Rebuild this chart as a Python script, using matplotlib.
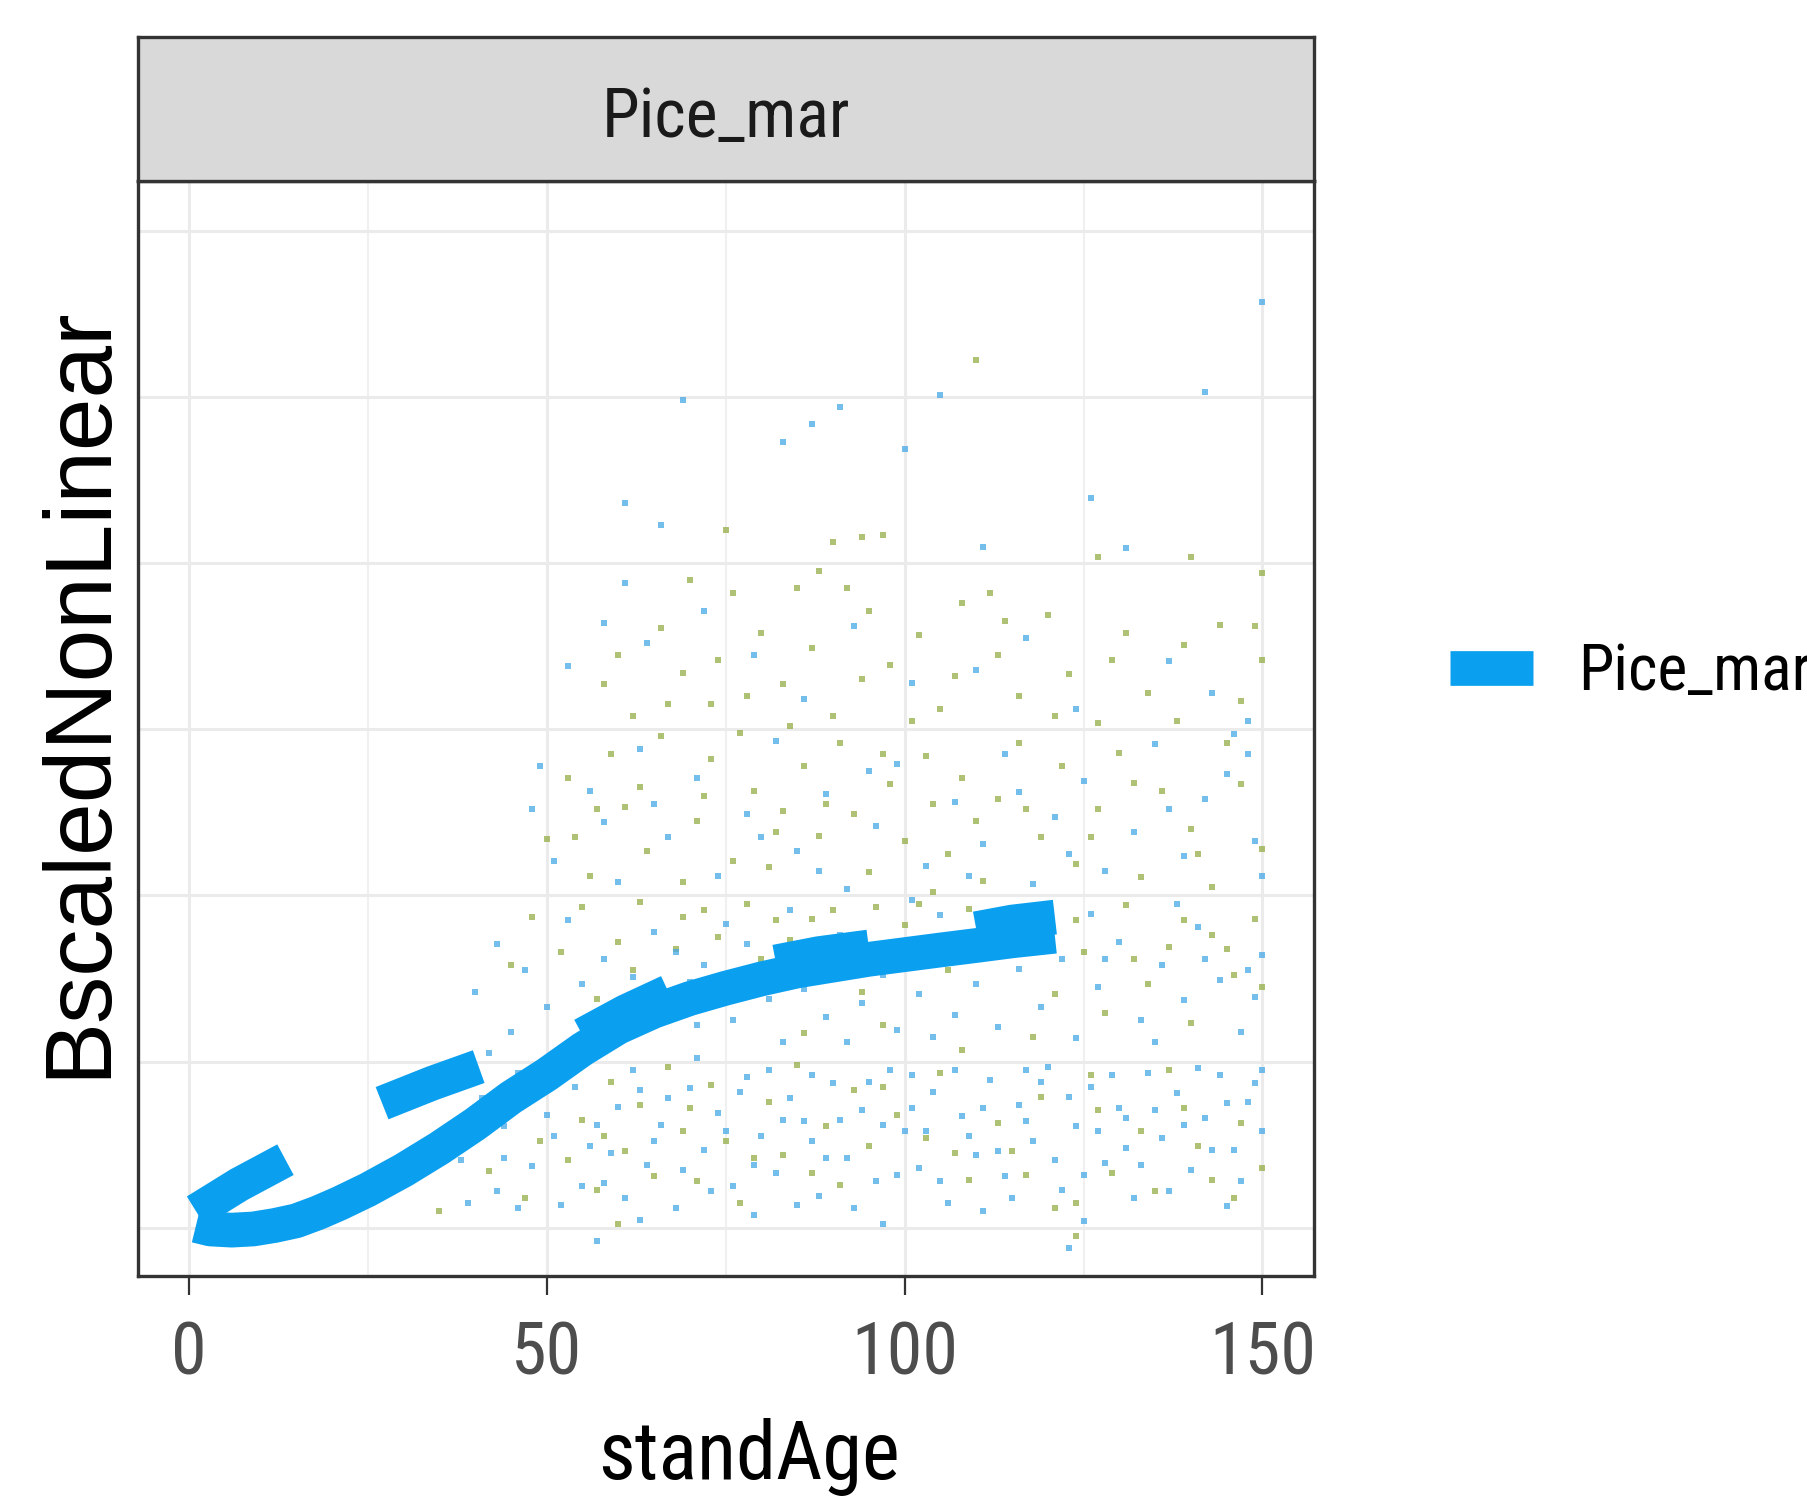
import numpy as np
import matplotlib
matplotlib.use("Agg")
import matplotlib.pyplot as plt

# narrow grotesque first, regular Liberation as fallback
plt.rcParams['font.family'] = ['Roboto Condensed', 'Archivo Narrow', 'Liberation Sans', 'DejaVu Sans']

# fitted curve (solid) for Pice_mar
main_age = [1, 3, 6, 9, 12, 15, 18, 21, 25, 30, 35, 40, 45, 50, 55, 60, 65, 70,
            75, 80, 85, 90, 95, 100, 105, 110, 115, 121]
main_fit = [0.014, -0.007, -0.014, -0.007, 0.014, 0.042, 0.090, 0.146, 0.229, 0.347,
            0.479, 0.624, 0.784, 0.922, 1.075, 1.207, 1.304, 1.380, 1.442, 1.498,
            1.546, 1.581, 1.616, 1.644, 1.672, 1.699, 1.727, 1.755]

# second (dashed) curve, visible dash pieces separated by nan
dash_age = [1, 7, 13.5, np.nan, 27, 34, 40.5, np.nan, 55, 61, 67, np.nan,
            82, 88, 95, np.nan, 110, 115, 121]
dash_fit = [0.10, 0.26, 0.41, np.nan, 0.75, 0.87, 0.97, np.nan, 1.16, 1.30, 1.42, np.nan,
            1.60, 1.65, 1.69, np.nan, 1.80, 1.84, 1.87]

# raw points (two colour groups)
blue_pts = [
    (150, 5.57), (105, 5.01), (142, 5.03), (69, 4.98), (91, 4.94), (87, 4.84), (83, 4.73),
    (100, 4.69), (61, 4.36), (126, 4.39), (66, 4.23), (111, 4.1), (131, 4.09), (61, 3.88),
    (58, 3.64), (53, 3.38), (49, 2.78),
    (64, 3.52), (72, 3.71), (79, 3.45), (93, 3.62), (101, 3.28), (117, 3.55), (124, 3.12),
    (137, 3.41), (143, 3.22), (148, 3.05), (86, 3.18), (110, 3.36),
    (48, 2.52), (51, 2.21), (56, 2.63), (60, 2.08), (63, 2.88), (67, 2.35), (71, 2.71),
    (74, 2.12), (78, 2.49), (82, 2.93), (85, 2.27), (89, 2.61), (92, 2.04), (96, 2.42),
    (99, 2.79), (103, 2.18), (107, 2.56), (111, 2.31), (114, 2.85), (118, 2.07), (121, 2.47),
    (125, 2.69), (128, 2.15), (132, 2.38), (135, 2.91), (139, 2.24), (142, 2.58), (145, 2.73),
    (149, 2.33), (150, 2.12), (146, 2.97), (58, 2.44), (88, 2.15), (116, 2.62),
    (65, 2.55), (80, 2.35), (95, 2.75), (109, 2.12), (123, 2.25), (137, 2.52), (148, 2.85),
    (40, 1.42), (43, 1.71), (45, 1.18), (47, 1.55), (50, 1.33), (53, 1.85), (55, 1.47),
    (58, 1.62), (62, 1.51), (65, 1.78), (68, 1.66), (72, 1.58), (75, 1.83), (78, 1.71),
    (81, 1.38), (84, 1.91), (86, 1.44), (89, 1.27), (91, 1.76), (94, 1.35), (97, 1.52),
    (99, 1.19), (102, 1.41), (105, 1.88), (107, 1.28), (110, 1.47), (113, 1.21), (116, 1.56),
    (119, 1.33), (122, 1.62), (124, 1.14), (127, 1.45), (130, 1.72), (133, 1.25), (136, 1.58),
    (139, 1.37), (141, 1.81), (144, 1.49), (147, 1.18), (150, 1.64), (149, 1.39), (138, 1.95),
    (126, 1.89), (101, 1.97), (71, 1.22), (83, 1.12),
    (60, 1.28), (70, 1.48), (76, 1.25), (85, 1.62), (92, 1.12), (104, 1.15), (111, 1.82),
    (120, 1.78), (128, 1.62), (135, 1.12), (142, 1.62), (148, 1.55),
    (38, 0.41), (41, 0.78), (43, 0.22), (44, 0.61), (46, 0.93), (48, 0.37), (50, 0.68),
    (52, 0.14), (54, 0.85), (56, 0.49), (58, 0.27), (60, 0.73), (62, 0.95), (64, 0.38),
    (66, 0.62), (68, 0.12), (70, 0.84), (72, 0.47), (74, 0.69), (76, 0.25), (78, 0.91),
    (80, 0.55), (82, 0.33), (84, 0.78), (86, 0.64), (88, 0.19), (90, 0.87), (92, 0.42),
    (94, 0.71), (96, 0.28), (98, 0.95), (100, 0.58), (102, 0.36), (104, 0.82), (106, 0.15),
    (108, 0.67), (110, 0.44), (112, 0.89), (114, 0.31), (116, 0.74), (118, 0.52), (120, 0.97),
    (122, 0.23), (124, 0.61), (126, 0.85), (128, 0.39), (130, 0.72), (132, 0.18), (134, 0.93),
    (136, 0.54), (138, 0.81), (140, 0.35), (142, 0.66), (144, 0.92), (146, 0.47), (148, 0.76),
    (150, 0.58), (149, 0.87), (63, 0.05), (79, 0.08), (97, 0.02), (111, 0.1), (125, 0.04),
    (145, 0.13), (57, -0.08), (123, -0.12), (87, 0.52), (101, 0.72), (117, 0.95), (131, 0.48),
    (39, 0.15), (42, 1.05), (44, 0.42), (46, 0.12), (49, 0.95), (51, 0.55), (53, 1.05),
    (55, 0.25), (57, 0.62), (59, 0.45), (61, 0.18), (63, 0.83), (65, 0.52), (67, 0.78),
    (69, 0.35), (71, 1.02), (73, 0.22), (75, 0.58), (77, 0.82), (79, 0.38), (81, 0.95),
    (83, 0.65), (85, 0.14), (87, 0.92), (89, 0.42), (91, 0.65), (93, 0.12), (95, 0.88),
    (97, 0.62), (99, 0.32), (101, 0.92), (103, 0.58), (105, 0.28), (107, 0.95), (109, 0.55),
    (111, 0.72), (113, 0.46), (115, 0.18), (117, 0.64), (119, 0.88), (121, 0.41), (123, 0.79),
    (125, 0.32), (127, 0.58), (129, 0.92), (131, 0.66), (133, 0.38), (135, 0.71), (137, 0.22),
    (139, 0.62), (141, 0.96), (143, 0.47), (145, 0.75), (147, 0.28), (150, 0.95),
]
green_pts = [
    (110, 5.22), (75, 4.2), (90, 4.13), (94, 4.16), (140, 4.04), (127, 4.04), (88, 3.95),
    (150, 3.94), (97, 4.17), (112, 3.82),
    (58, 3.27), (62, 3.08), (66, 3.61), (69, 3.34), (73, 3.15), (76, 3.82), (80, 3.58),
    (83, 3.27), (87, 3.49), (90, 3.08), (95, 3.71), (98, 3.39), (102, 3.57), (105, 3.12),
    (108, 3.76), (113, 3.45), (116, 3.2), (120, 3.69), (123, 3.33), (127, 3.04), (131, 3.58),
    (134, 3.22), (139, 3.51), (144, 3.63), (147, 3.17), (150, 3.42), (92, 3.85), (84, 3.02),
    (70, 3.9), (60, 3.45), (67, 3.15), (78, 3.2), (85, 3.85), (94, 3.3), (101, 3.05),
    (107, 3.32), (114, 3.65), (121, 3.08), (129, 3.42), (138, 3.05), (149, 3.62), (74, 3.42),
    (50, 2.34), (53, 2.71), (56, 2.12), (59, 2.85), (61, 2.53), (64, 2.27), (66, 2.96),
    (69, 2.08), (71, 2.45), (73, 2.82), (76, 2.21), (79, 2.63), (81, 2.17), (83, 2.51),
    (86, 2.78), (88, 2.36), (91, 2.92), (93, 2.49), (95, 2.14), (98, 2.67), (100, 2.33),
    (103, 2.84), (106, 2.25), (108, 2.71), (111, 2.09), (113, 2.58), (116, 2.92), (119, 2.35),
    (122, 2.78), (124, 2.19), (127, 2.52), (130, 2.86), (133, 2.11), (136, 2.63), (140, 2.4),
    (143, 2.05), (147, 2.67), (150, 2.28), (77, 2.98), (104, 2.02),
    (72, 2.6), (82, 2.38), (89, 2.55), (97, 2.85), (104, 2.55), (110, 2.45), (117, 2.52),
    (126, 2.35), (132, 2.68), (141, 2.25), (145, 2.92), (63, 2.65), (57, 2.52), (54, 2.35),
    (45, 1.58), (48, 1.87), (52, 1.66), (55, 1.93), (57, 1.38), (60, 1.72), (63, 1.96),
    (66, 1.42), (69, 1.87), (72, 1.91), (75, 1.46), (78, 1.95), (80, 1.62), (84, 1.73),
    (87, 1.86), (90, 1.91), (93, 1.68), (96, 1.93), (100, 1.82), (103, 1.64), (106, 1.55),
    (109, 1.92), (112, 1.68), (115, 1.84), (118, 1.73), (121, 1.41), (125, 1.66), (128, 1.29),
    (131, 1.94), (134, 1.47), (137, 1.69), (140, 1.23), (143, 1.76), (146, 1.52), (149, 1.86),
    (97, 1.22), (108, 1.07), (118, 1.15), (86, 1.17),
    (62, 1.55), (68, 1.68), (74, 1.75), (82, 1.85), (88, 1.58), (94, 1.42), (102, 1.95),
    (110, 1.62), (117, 1.93), (124, 1.85), (132, 1.62), (139, 1.85), (145, 1.68), (150, 1.45),
    (35, 0.1), (40, 0.55), (42, 0.34), (45, 0.81), (47, 0.18), (49, 0.52), (51, 0.92),
    (53, 0.41), (55, 0.65), (57, 0.23), (59, 0.88), (61, 0.46), (63, 0.74), (65, 0.31),
    (67, 0.97), (69, 0.58), (71, 0.28), (73, 0.86), (75, 0.52), (77, 0.15), (81, 0.76),
    (83, 0.44), (85, 0.98), (89, 0.61), (91, 0.26), (93, 0.83), (95, 0.49), (99, 0.68),
    (103, 0.54), (105, 0.93), (109, 0.29), (113, 0.63), (115, 0.46), (119, 0.79), (121, 0.12),
    (124, -0.05), (127, 0.71), (129, 0.33), (133, 0.58), (135, 0.22), (137, 0.95), (141, 0.49),
    (143, 0.29), (147, 0.63), (150, 0.36), (124, 0.15), (60, 0.02),
    (58, 0.55), (70, 0.72), (79, 0.42), (87, 0.33), (97, 0.85), (107, 0.45), (117, 0.32),
    (126, 0.92), (139, 0.72), (146, 0.18),
]

x_ticks = [0, 50, 100, 150]
x_minor = [25, 75, 125]
y_grid = [0, 1, 2, 3, 4, 5, 6]
facet_label = 'Pice_mar'

line_color = '#0A9FEF'
W, H = 1808, 1503

fig = plt.figure(figsize=(W / 100, H / 100), dpi=100)
ax = fig.add_axes([138 / W, 1 - 1276 / H, (1314 - 138) / W, (1276 - 181) / H])

bx, by = zip(*blue_pts)
gx, gy = zip(*green_pts)
ax.scatter(gx, gy, s=24, marker='s', color='#93AD45', alpha=0.75, linewidths=0, zorder=2)
ax.scatter(bx, by, s=24, marker='s', color='#45A8E6', alpha=0.75, linewidths=0, zorder=2)

main_line, = ax.plot(main_age, main_fit, color=line_color, lw=25,
                     solid_capstyle='butt', solid_joinstyle='round', zorder=3)
ax.plot(dash_age, dash_fit, color=line_color, lw=25,
        solid_capstyle='butt', solid_joinstyle='round', zorder=3)

ax.set_xlim(-7.1, 157.2)
ax.set_ylim(-0.29, 6.30)
ax.set_xticks(x_ticks)
ax.set_xticks(x_minor, minor=True)
ax.set_yticks(y_grid)
ax.set_yticklabels([])
ax.grid(which='major', color='#EBEBEB', lw=2.2, zorder=0)
ax.grid(which='minor', axis='x', color='#F0F0F0', lw=1.5, zorder=0)
ax.set_axisbelow(True)
ax.tick_params(axis='y', length=0)
ax.tick_params(axis='x', which='major', length=14, width=1.6, color='#333333',
               labelsize=52, labelcolor='#4D4D4D', pad=18)
ax.tick_params(axis='x', which='minor', length=0)
for sp in ax.spines.values():
    sp.set_color('#333333')
    sp.set_linewidth(2.4)

ax.set_xlabel('standAge', fontsize=58, color='black')
ax.xaxis.set_label_coords((749 - 138) / 1176, (1276 - 1418) / 1095)
ax.set_ylabel('BscaledNonLinear', fontsize=68, family=['Liberation Sans', 'DejaVu Sans'],
              color='black')
ax.yaxis.set_label_coords((124 - 138) / 1176, (1276 - 692) / 1095)

# facet strip
strip = fig.add_axes([138 / W, 1 - 181 / H, (1314 - 138) / W, (181 - 37) / H])
strip.set_facecolor('#D9D9D9')
strip.set_xticks([])
strip.set_yticks([])
for sp in strip.spines.values():
    sp.set_color('#333333')
    sp.set_linewidth(2.4)
strip.text(0.5, 0.44, facet_label, ha='center', va='center', fontsize=49,
           color='#1A1A1A', transform=strip.transAxes)

ax.legend([main_line], [facet_label], loc='center left',
          bbox_to_anchor=(1450 / W, 1 - 672 / H), bbox_transform=fig.transFigure,
          frameon=False, fontsize=46, handlelength=1.3, handletextpad=0.7,
          borderpad=0, borderaxespad=0)

fig.savefig('out.png', dpi=100)
